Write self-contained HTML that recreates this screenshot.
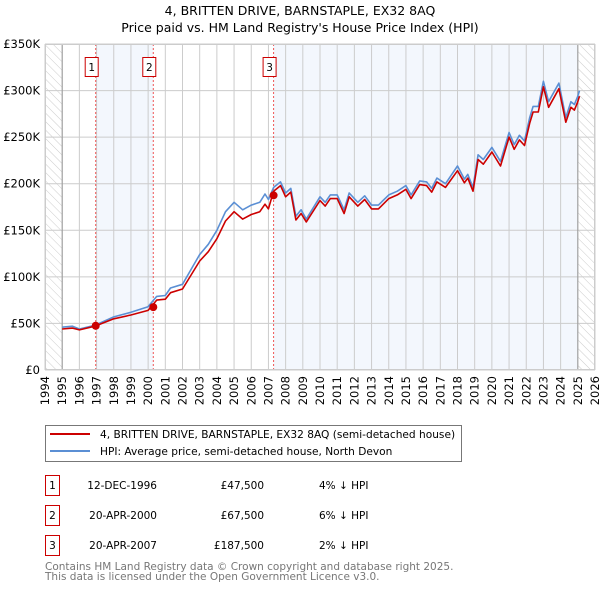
<!DOCTYPE html>
<html><head><meta charset="utf-8"><style>
body{margin:0;background:#fff;}
svg text{font-family:"DejaVu Sans","Liberation Sans",sans-serif;}
</style></head><body>
<svg width="600" height="590" xmlns="http://www.w3.org/2000/svg">
<defs><pattern id="hatch" width="6" height="6" patternUnits="userSpaceOnUse" patternTransform="rotate(-45)"><line x1="0" y1="0" x2="0" y2="6" stroke="#ccc" stroke-width="1"/></pattern></defs>
<text x="300" y="15" font-size="12.5" text-anchor="middle">4, BRITTEN DRIVE, BARNSTAPLE, EX32 8AQ</text>
<text x="300" y="32" font-size="12.5" text-anchor="middle">Price paid vs. HM Land Registry's House Price Index (HPI)</text>
<g id="plot"></g>
<g>
<rect x="45.5" y="425.5" width="416" height="36" fill="#fff" stroke="#777"/>
<line x1="50" y1="434" x2="90" y2="434" stroke="#cc0000" stroke-width="2"/>
<text x="100" y="438" font-size="10.6">4, BRITTEN DRIVE, BARNSTAPLE, EX32 8AQ (semi-detached house)</text>
<line x1="50" y1="451" x2="90" y2="451" stroke="#5b8fd4" stroke-width="2"/>
<text x="100" y="455" font-size="10.6">HPI: Average price, semi-detached house, North Devon</text>
</g>
<g font-size="10.5">
<rect x="45.5" y="475.5" width="14" height="20" fill="#fff" stroke="#cc0000"/><text x="52.5" y="489" text-anchor="middle">1</text>
<text x="157" y="489" text-anchor="end">12-DEC-1996</text><text x="264" y="489" text-anchor="end">£47,500</text><text x="319" y="489">4% ↓ HPI</text>
<rect x="45.5" y="505.5" width="14" height="20" fill="#fff" stroke="#cc0000"/><text x="52.5" y="519" text-anchor="middle">2</text>
<text x="157" y="519" text-anchor="end">20-APR-2000</text><text x="264" y="519" text-anchor="end">£67,500</text><text x="319" y="519">6% ↓ HPI</text>
<rect x="45.5" y="535.5" width="14" height="20" fill="#fff" stroke="#cc0000"/><text x="52.5" y="549" text-anchor="middle">3</text>
<text x="157" y="549" text-anchor="end">20-APR-2007</text><text x="264" y="549" text-anchor="end">£187,500</text><text x="319" y="549">2% ↓ HPI</text>
</g>
<text x="45" y="570" font-size="10.5" fill="#777">Contains HM Land Registry data © Crown copyright and database right 2025.</text>
<text x="45" y="580" font-size="10.5" fill="#777">This data is licensed under the Open Government Licence v3.0.</text>
</svg>
<script>
const yearTicks=[1994,1995,1996,1997,1998,1999,2000,2001,2002,2003,2004,2005,2006,2007,2008,2009,2010,2011,2012,2013,2014,2015,2016,2017,2018,2019,2020,2021,2022,2023,2024,2025,2026];
const valueTicks=[0,50,100,150,200,250,300,350];
const valueLabels=["£0","£50K","£100K","£150K","£200K","£250K","£300K","£350K"];
const dates=[1995.0,1995.6,1996.0,1996.9,1998.0,1999.0,2000.0,2000.5,2001.0,2001.3,2002.0,2002.5,2003.0,2003.5,2004.0,2004.5,2005.0,2005.5,2006.0,2006.5,2006.8,2007.0,2007.3,2007.7,2008.0,2008.3,2008.6,2008.9,2009.2,2010.0,2010.3,2010.6,2011.0,2011.4,2011.7,2012.2,2012.6,2013.0,2013.4,2014.0,2014.5,2015.0,2015.3,2015.8,2016.2,2016.5,2016.8,2017.3,2018.0,2018.4,2018.6,2018.9,2019.2,2019.5,2020.0,2020.5,2021.0,2021.3,2021.6,2021.9,2022.2,2022.4,2022.7,2023.0,2023.3,2023.9,2024.3,2024.6,2024.8,2025.0,2025.1];
const hpi=[46,47,44,48,57,62,68,79,80,88,92,108,124,135,150,170,180,172,177,180,189,183,196,202,190,195,165,172,162,186,180,188,188,172,190,180,187,177,177,188,192,198,188,203,202,195,206,200,219,205,210,196,231,226,239,224,255,242,252,246,271,283,283,310,288,308,271,288,285,294,300];
const price=[44,45,43,47,55,59,64,75,76,83,87,102,117,127,141,160,170,162,167,170,178,173,192,198,186,191,161,168,159,182,176,184,184,168,186,176,183,173,173,184,188,194,184,199,198,191,202,196,214,201,206,192,226,221,234,219,250,237,247,241,265,277,277,304,282,302,266,282,279,288,294];
const saleDates=[1996.95,2000.3,2007.3];
const saleValues=[47.5,67.5,187.5];
const saleLabels=["1","2","3"];

const NS="http://www.w3.org/2000/svg";
const X0=45,X1=595,Y0=370,Y1=44;
const x=t=>X0+(t-1994)/(2026-1994)*(X1-X0);
const y=v=>Y0-v/350*(Y0-Y1);
const g=document.getElementById('plot');
function mk(tag,attrs,parent){const e=document.createElementNS(NS,tag);for(const k in attrs)e.setAttribute(k,attrs[k]);(parent||g).appendChild(e);return e;}
const s1=mk('rect',{x:x(saleDates[0]),y:Y1,width:x(saleDates[1])-x(saleDates[0]),height:Y0-Y1,fill:'#f3f7fd'});


const s2=mk('rect',{x:x(saleDates[2]),y:Y1,width:x(2025.0)-x(saleDates[2]),height:Y0-Y1,fill:'#f3f7fd'});


const h1=mk('rect',{x:X0,y:Y1,width:x(1995)-X0,height:Y0-Y1,fill:'url(#hatch)'});


const h2=mk('rect',{x:x(2025),y:Y1,width:X1-x(2025),height:Y0-Y1,fill:'url(#hatch)'});


yearTicks.forEach(t=>{
  const l=mk('line',{x1:x(t),x2:x(t),y1:Y1,y2:Y0,stroke:'#ccc','stroke-width':1});
  
  
  const tx=mk('text',{x:x(t)+4,y:Y0+6,'font-size':11.5,transform:`rotate(-90 ${x(t)+4} ${Y0+6})`,'text-anchor':'end'});
  tx.textContent=t;
  
  
});
valueTicks.forEach((v,i)=>{
  const l=mk('line',{x1:X0,x2:X1,y1:y(v),y2:y(v),stroke:'#ccc','stroke-width':1});
  
  
  const tx=mk('text',{x:40,y:y(v)+4,'font-size':11.5,'text-anchor':'end'});
  tx.textContent=valueLabels[i];
  
  
});
[x(1995),x(2025)].forEach(xx=>{const l=mk('line',{x1:xx,x2:xx,y1:Y1,y2:Y0,stroke:'#999','stroke-width':1});
  
  });
saleDates.forEach((d,i)=>{
  const l=mk('line',{x1:x(d),x2:x(d),y1:Y1,y2:Y0,stroke:'#e55','stroke-width':1,'stroke-dasharray':'2,2'});
  
  
  const r=mk('rect',{x:x(d)-10.5,y:57.5,width:13,height:19,fill:'#fff',stroke:'#cc0000'});
  
  
  const t=mk('text',{x:x(d)-4,y:71,'font-size':10.5,'text-anchor':'middle'});
  t.textContent=saleLabels[i];
  
  
});
const pts=a=>a.map((v,i)=>x(dates[i]).toFixed(1)+','+y(v).toFixed(1)).join(' ');
const lb=mk('polyline',{points:pts(hpi),fill:'none',stroke:'#5b8fd4','stroke-width':1.6,'stroke-linejoin':'round'});


const lr=mk('polyline',{points:pts(price),fill:'none',stroke:'#cc0000','stroke-width':1.6,'stroke-linejoin':'round'});


saleDates.forEach((d,i)=>{
  const c=mk('circle',{cx:x(d),cy:y(saleValues[i]),r:4,fill:'#cc0000'});
  
  
});
const fr=mk('rect',{x:X0+0.5,y:Y1+0.5,width:X1-X0-1,height:Y0-Y1-1,fill:'none',stroke:'#ccc'});


</script>
</body></html>
